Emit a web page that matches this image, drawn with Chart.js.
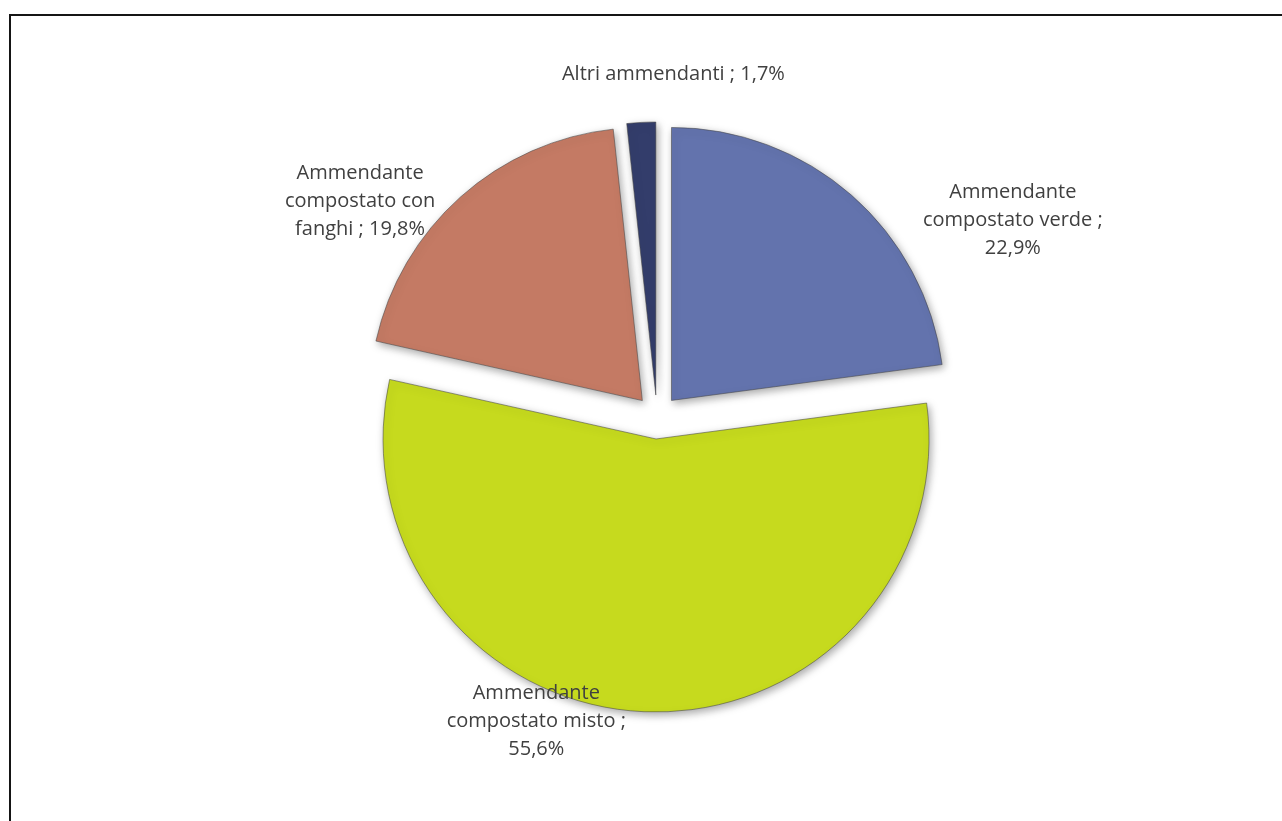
<!DOCTYPE html>
<html>
<head>
<meta charset="utf-8">
<script src="https://cdn.jsdelivr.net/npm/chart.js@4.4.0/dist/chart.umd.min.js"></script>
<style>
html,body{margin:0;padding:0;background:#fff;overflow:hidden;}
#wrap{position:relative;width:1282px;height:821px;}
#frame{position:absolute;left:9px;top:14px;width:1400px;height:900px;border:2px solid #151515;box-sizing:border-box;}
canvas{position:absolute;left:0;top:0;}
</style>
</head>
<body>
<div id="wrap">
  <div id="frame"></div>
  <canvas id="pie" width="1282" height="821"></canvas>
</div>
<script>
const categories=['Ammendante compostato verde','Ammendante compostato misto','Ammendante compostato con fanghi','Altri ammendanti'];
const values=[22.9,55.6,19.8,1.7];
const colors=['#6373ad','#c6da1e','#c47a64','#333d6b'];

// label placement: angle shift from slice middle (deg), radius factor, wrap width
const labelPos=[{da:19.8,rf:1.49,w:222},{da:19.1,rf:1.20,w:216},{da:-12.2,rf:1.345,w:172},{da:5.8,rf:1.257,w:366}];
const explode=22;

function pct(v){return v.toFixed(1).replace('.',',')+'%';}
function wrap(ctx,text,maxW){
  const words=text.split(' ');let lines=[],cur='';
  words.forEach(w=>{const t=cur?cur+' '+w:w;if(ctx.measureText(t).width>maxW&&cur){lines.push(cur);cur=w;}else cur=t;});
  if(cur)lines.push(cur);return lines;
}

// pull every slice out of the pie along its middle angle
const pullOut={
  id:'pullOut',
  beforeDatasetDraw(chart){
    const c=chart.ctx;
    chart.getDatasetMeta(0).data.forEach(arc=>{
      if(arc._pulled)return;
      const orig=arc.draw;
      arc.draw=function(ctx){
        const h=(this.startAngle+this.endAngle)/2;
        ctx.save();ctx.translate(Math.cos(h)*explode,Math.sin(h)*explode);
        orig.call(this,ctx);ctx.restore();
      };
      arc._pulled=true;
    });
    c.save();c.shadowColor='rgba(0,0,0,0.35)';c.shadowBlur=8;c.shadowOffsetX=2;c.shadowOffsetY=3;
  },
  afterDatasetDraw(chart){chart.ctx.restore();}
};

const sliceLabels={
  id:'sliceLabels',
  afterDatasetsDraw(chart){
    const ctx=chart.ctx;const meta=chart.getDatasetMeta(0);
    ctx.save();
    ctx.font='20px "Open Sans"';ctx.fillStyle='#404040';ctx.textAlign='center';ctx.textBaseline='middle';
    meta.data.forEach((arc,i)=>{
      const p=labelPos[i];
      const a=(arc.startAngle+arc.endAngle)/2+p.da*Math.PI/180;
      const r=arc.outerRadius*p.rf;
      const cx=arc.x+Math.cos(a)*r,cy=arc.y+Math.sin(a)*r;
      const lines=wrap(ctx,categories[i]+' ; '+pct(values[i]),p.w);
      const lh=28;
      lines.forEach((l,k)=>ctx.fillText(l,cx,cy+(k-(lines.length-1)/2)*lh));
    });
    ctx.restore();
  }
};

new Chart(document.getElementById('pie'),{
  type:'pie',
  data:{labels:categories,datasets:[{data:values,backgroundColor:colors,borderColor:'rgba(70,70,70,0.55)',borderWidth:1,offset:0,hoverOffset:0}]},
  options:{
    responsive:false,animation:false,
    radius:273,
    layout:{padding:{left:32,right:0,top:13,bottom:0}},
    plugins:{legend:{display:false},tooltip:{enabled:false}}
  },
  plugins:[pullOut,sliceLabels]
});
</script>
</body>
</html>
